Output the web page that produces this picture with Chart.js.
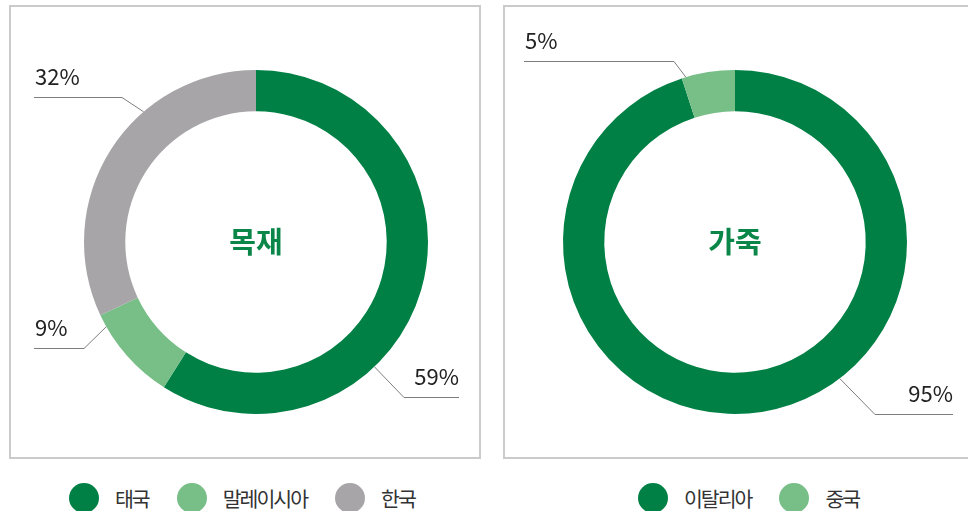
<!DOCTYPE html>
<html>
<head>
<meta charset="utf-8">
<script src="https://cdn.jsdelivr.net/npm/chart.js@4/dist/chart.umd.min.js"></script>
<style>
  html, body { margin: 0; padding: 0; background: #fff; }
  body { width: 968px; height: 511px; position: relative; overflow: hidden; font-family: 'Noto Sans CJK KR', sans-serif; }
  .panel { position: absolute; box-sizing: border-box; border: 2px solid #cbcbcb; }
  canvas { position: absolute; top: 0; }
  .legend { position: absolute; top: 483px; display: flex; align-items: center; height: 30px; }
  .legend .dot { width: 30px; height: 30px; border-radius: 50%; margin-right: 16px; }
  .legend .name { font-size: 20.5px; letter-spacing: -2px; color: #333; margin-right: 28px; line-height: 30px; }
</style>
</head>
<body>
<div class="panel" style="left:9px; top:5px; width:472px; height:454px;"></div>
<div class="panel" style="left:503px; top:5px; width:480px; height:454px;"></div>
<canvas id="wood" width="490" height="460" style="left:0"></canvas>
<canvas id="leather" width="478" height="460" style="left:490px"></canvas>
<div class="legend" id="woodLegend" style="left:69px"></div>
<div class="legend" id="leatherLegend" style="left:638px"></div>
<script>
const woodTitle = '목재';
const woodLabels = ['태국', '말레이시아', '한국'];
const woodShares = [59, 9, 32];

const leatherTitle = '가죽';
const leatherLabels = ['이탈리아', '중국'];
const leatherShares = [95, 5];

const darkGreen = '#008045';
const lightGreen = '#77be87';
const grey = '#a7a5a8';

Chart.defaults.font.family = "'Noto Sans CJK KR', sans-serif";

// leader lines: angle on the outer edge, elbow and line end relative to the centre
const woodCallouts = [
    {index: 0, angle: 46.5, elbow: [148, 155], end: 203, align: 'right'},
    {index: 1, angle: 150.5, elbow: [-172, 106], end: -222, align: 'left'},
    {index: 2, angle: -130.8, elbow: [-134, -145], end: -222, align: 'left'}
];
const leatherCallouts = [
    {index: 0, angle: 52.5, elbow: [140, 172], end: 218, align: 'right'},
    {index: 1, angle: -106.6, elbow: [-61, -181], end: -211, align: 'left'}
];

const calloutPlugin = {
    id: 'callouts',
    afterDatasetsDraw(chart, args, opts) {
        const ctx = chart.ctx;
        const arcs = chart.getDatasetMeta(0).data;
        const values = chart.data.datasets[0].data;
        const cx = arcs[0].x, cy = arcs[0].y, r = arcs[0].outerRadius;
        ctx.save();
        ctx.strokeStyle = '#7d7d7d';
        ctx.lineWidth = 1;
        ctx.fillStyle = '#222';
        ctx.font = "22px 'Noto Sans CJK KR', sans-serif";
        ctx.textBaseline = 'alphabetic';
        opts.items.forEach(c => {
            const a = c.angle * Math.PI / 180;
            const ex = cx + c.elbow[0], ey = cy + c.elbow[1];
            const endX = cx + c.end;
            ctx.beginPath();
            ctx.moveTo(cx + r * Math.cos(a), cy + r * Math.sin(a));
            ctx.lineTo(ex, ey + 0.5);
            ctx.lineTo(endX, ey + 0.5);
            ctx.stroke();
            ctx.textAlign = c.align;
            ctx.fillText(values[c.index] + '%', endX + (c.align === 'left' ? 1 : 0), ey - 12);
        });
        // title in the hole
        ctx.fillStyle = '#0b8649';
        ctx.font = "bold 29px 'Noto Sans CJK KR', sans-serif";
        ctx.textAlign = 'center';
        ctx.textBaseline = 'middle';
        ctx.fillText(opts.title, cx, cy);
        ctx.restore();
    }
};

function makeDoughnut(id, labels, shares, colors, title, callouts, padLeft, padRight) {
    return new Chart(id, {
        type: 'doughnut',
        data: {
            labels: labels,
            datasets: [{
                data: shares,
                backgroundColor: colors,
                borderWidth: 0
            }]
        },
        options: {
            responsive: false,
            animation: false,
            cutout: '76%',
            layout: {padding: {left: padLeft, right: padRight, top: 70, bottom: 46}},
            plugins: {
                legend: {display: false},
                tooltip: {enabled: false},
                callouts: {items: callouts, title: title}
            }
        },
        plugins: [calloutPlugin]
    });
}

function makeLegend(id, labels, colors) {
    const box = document.getElementById(id);
    labels.forEach((name, i) => {
        const dot = document.createElement('span');
        dot.className = 'dot';
        dot.style.background = colors[i];
        const text = document.createElement('span');
        text.className = 'name';
        text.textContent = name;
        box.appendChild(dot);
        box.appendChild(text);
    });
}

const woodColors = [darkGreen, lightGreen, grey];
const leatherColors = [darkGreen, lightGreen];

makeDoughnut('wood', woodLabels, woodShares, woodColors, woodTitle, woodCallouts, 84, 62);
makeDoughnut('leather', leatherLabels, leatherShares, leatherColors, leatherTitle, leatherCallouts, 73, 61);
makeLegend('woodLegend', woodLabels, woodColors);
makeLegend('leatherLegend', leatherLabels, leatherColors);
</script>
</body>
</html>
